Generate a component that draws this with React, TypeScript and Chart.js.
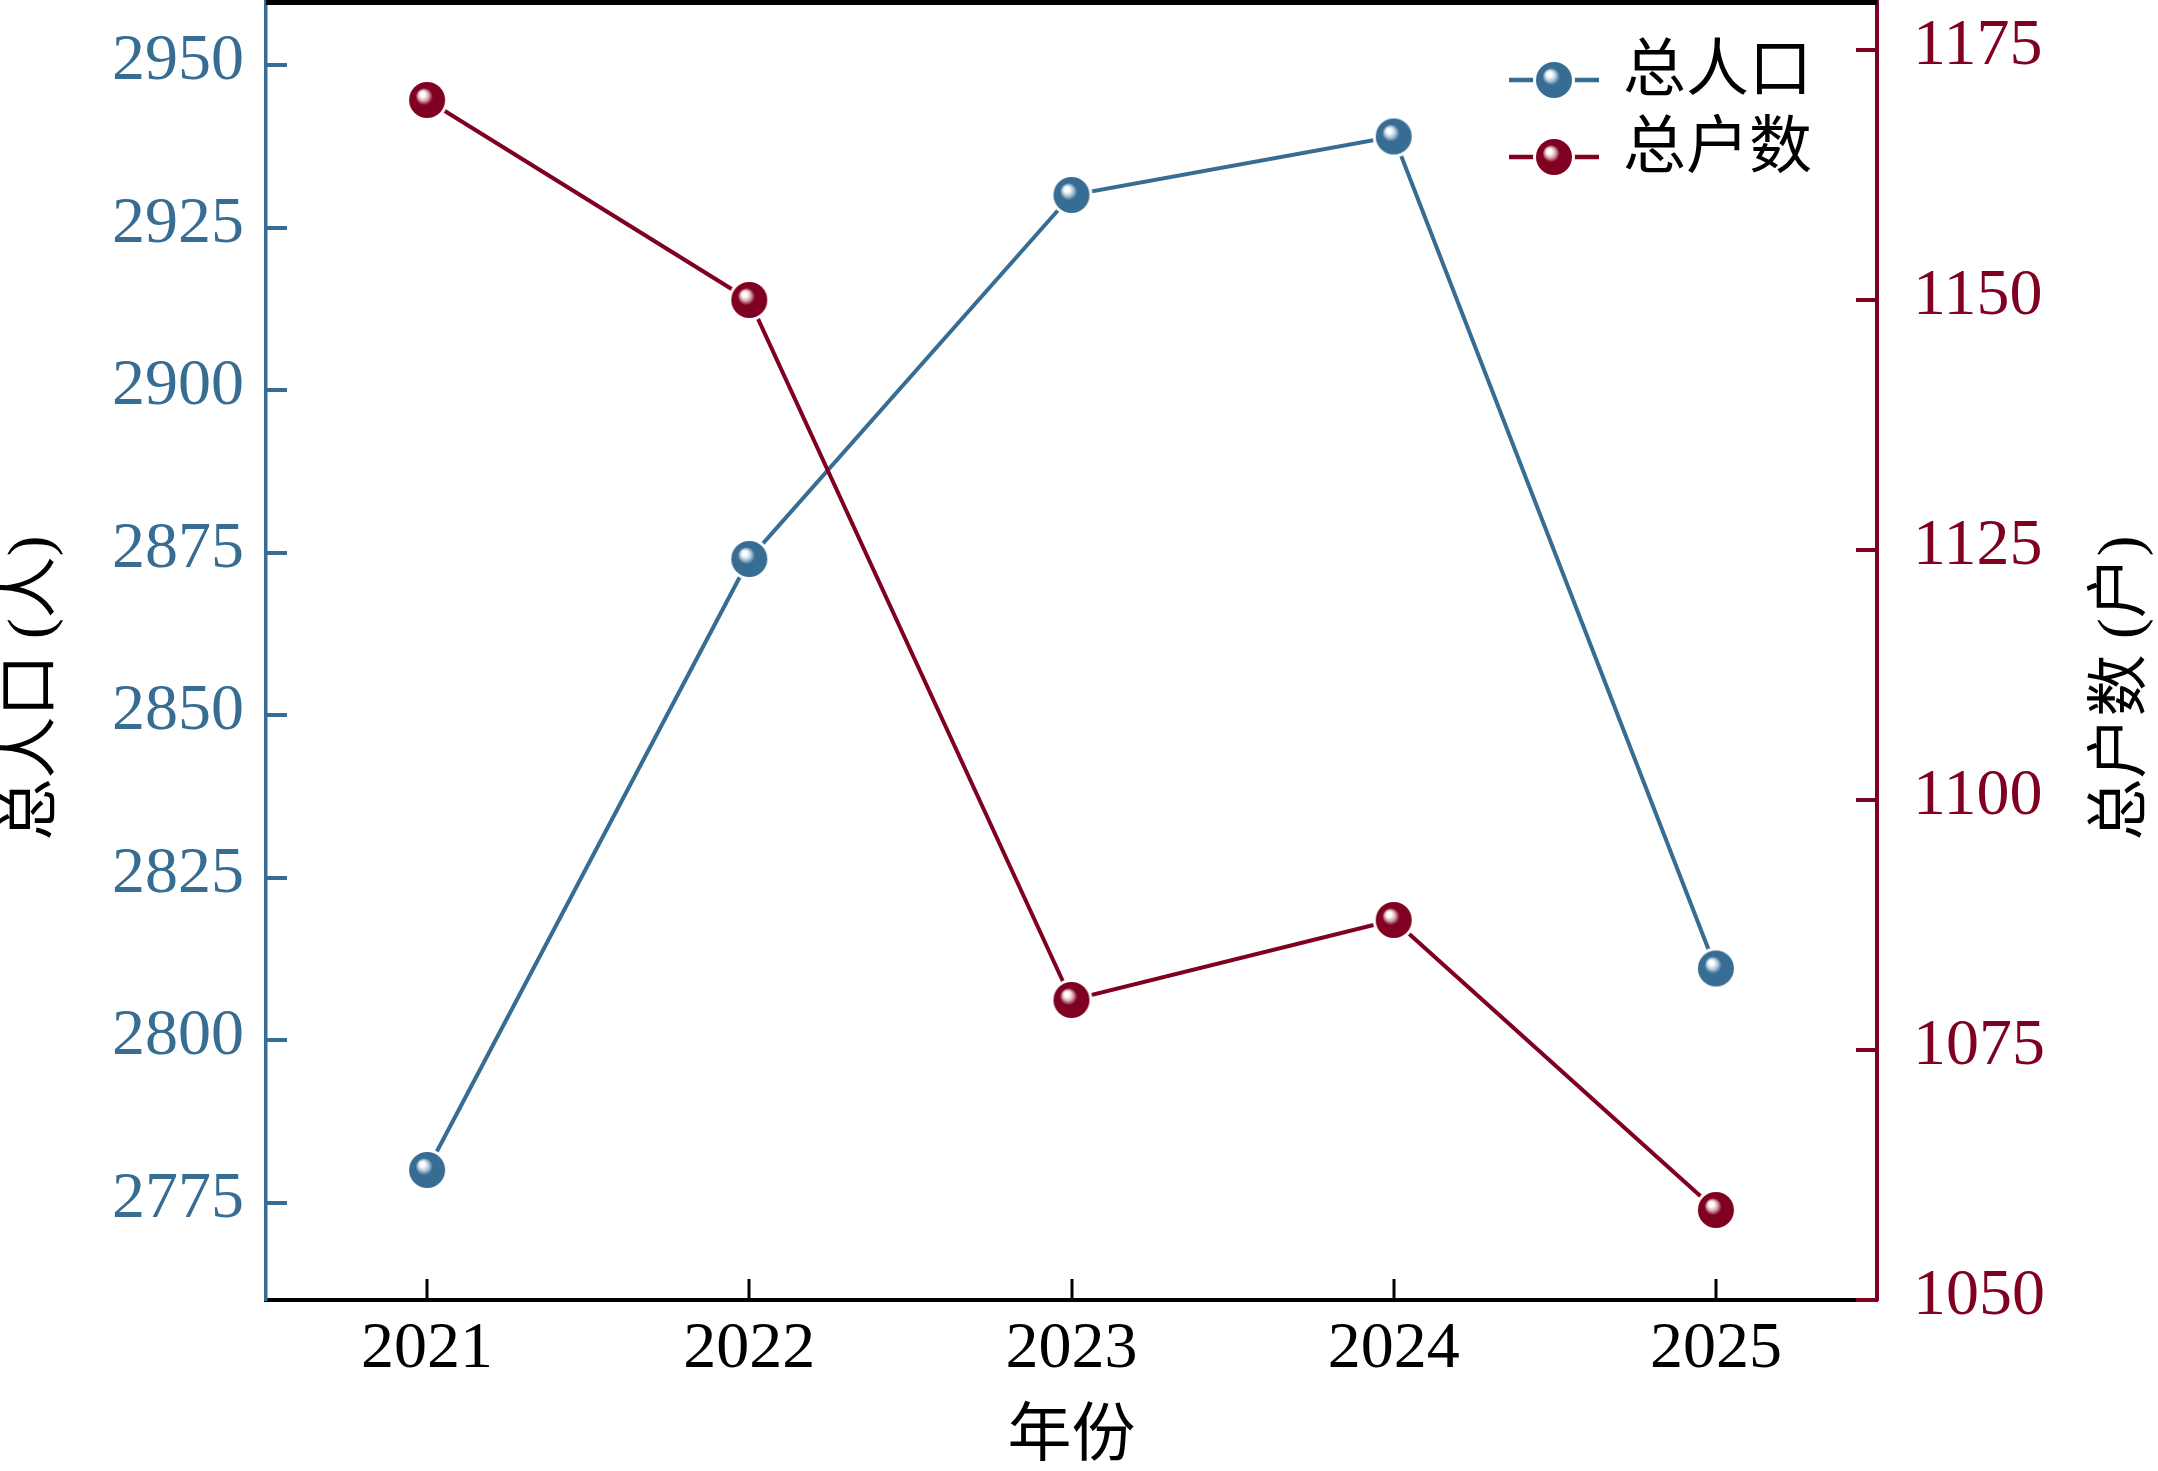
import { useEffect, useRef } from "react";
import { Chart, registerables } from "chart.js";

Chart.register(...registerables);

// data
const years = ["2021", "2022", "2023", "2024", "2025"];
const population = [2780, 2874, 2930, 2939, 2811];
const households = [1170, 1150, 1080, 1088, 1059];
const populationTicks = [2775, 2800, 2825, 2850, 2875, 2900, 2925, 2950];
const householdTicks = [1050, 1075, 1100, 1125, 1150, 1175];

const BLUE = "#376c93";
const BLUE_LIGHT = "#b3cadd";
const RED = "#7f0020";
const RED_LIGHT = "#d9a7b1";
const SERIF = "'Liberation Serif', 'Noto Sans CJK SC', serif";

// shiny ball marker with a white ring, so lines stop short of it
function makeBall(color: string, light: string, r = 18, ring = 3) {
  const size = Math.ceil(2 * (r + ring)) + 2;
  const c = document.createElement("canvas");
  c.width = size;
  c.height = size;
  const ctx = c.getContext("2d")!;
  const cx = size / 2;
  const cy = size / 2;
  ctx.fillStyle = "#ffffff";
  ctx.beginPath();
  ctx.arc(cx, cy, r + ring, 0, Math.PI * 2);
  ctx.fill();
  const g = ctx.createRadialGradient(cx - 0.3 * r, cy - 0.36 * r, 0, cx, cy, r);
  g.addColorStop(0, "#ffffff");
  g.addColorStop(0.14, "#ffffff");
  g.addColorStop(0.3, light);
  g.addColorStop(0.48, color);
  g.addColorStop(1, color);
  ctx.fillStyle = g;
  ctx.beginPath();
  ctx.arc(cx, cy, r, 0, Math.PI * 2);
  ctx.fill();
  return c;
}

const noPad = (scale: any) => {
  scale.paddingTop = 0;
  scale.paddingBottom = 0;
  scale.paddingLeft = 0;
  scale.paddingRight = 0;
};

export default function App() {
  const canvasRef = useRef<HTMLCanvasElement>(null);

  useEffect(() => {
    if (!canvasRef.current) return;

    const blueBall = makeBall(BLUE, BLUE_LIGHT);
    const redBall = makeBall(RED, RED_LIGHT);

    const decor = {
      id: "decor",
      beforeDatasetsDraw(chart: any) {
        const ctx = chart.ctx;
        const { x, y, y1 } = chart.scales;
        ctx.save();
        // inward tick marks
        ctx.lineWidth = 4;
        ctx.strokeStyle = BLUE;
        y.ticks.forEach((_: any, i: number) => {
          const p = Math.round(y.getPixelForTick(i));
          ctx.beginPath();
          ctx.moveTo(y.right, p);
          ctx.lineTo(y.right + 21, p);
          ctx.stroke();
        });
        ctx.strokeStyle = RED;
        y1.ticks.forEach((_: any, i: number) => {
          const p = Math.round(y1.getPixelForTick(i));
          ctx.beginPath();
          ctx.moveTo(y1.left, p);
          ctx.lineTo(y1.left - 21, p);
          ctx.stroke();
        });
        ctx.lineWidth = 3;
        ctx.strokeStyle = "#000000";
        x.ticks.forEach((_: any, i: number) => {
          const p = Math.round(x.getPixelForTick(i));
          ctx.beginPath();
          ctx.moveTo(p, x.top);
          ctx.lineTo(p, x.top - 21);
          ctx.stroke();
        });
        ctx.restore();
      },
      afterDraw(chart: any) {
        const ctx = chart.ctx;
        const area = chart.chartArea;
        ctx.save();
        // top frame line
        ctx.fillStyle = "#000000";
        ctx.fillRect(area.left, area.top, area.right - area.left, 5);

        // y axis titles, both reading bottom to top
        ctx.font = `62px ${SERIF}`;
        ctx.textAlign = "center";
        ctx.textBaseline = "middle";
        const titles: [string, number][] = [
          ["总人口 (人)", 34],
          ["总户数 (户)", 2124],
        ];
        titles.forEach(([t, tx]) => {
          ctx.save();
          ctx.translate(tx, 688);
          ctx.rotate(-Math.PI / 2);
          ctx.fillText(t, 0, 0);
          ctx.restore();
        });

        // legend
        const balls = [blueBall, redBall];
        chart.data.datasets.forEach((ds: any, i: number) => {
          const ly = 80 + i * 77;
          ctx.strokeStyle = ds.borderColor;
          ctx.lineWidth = 4.5;
          ctx.beginPath();
          ctx.moveTo(1509, ly);
          ctx.lineTo(1599, ly);
          ctx.stroke();
          const b = balls[i];
          ctx.drawImage(b, 1554 - b.width / 2, ly - b.height / 2);
          ctx.fillStyle = "#000000";
          ctx.textAlign = "left";
          ctx.font = `63px ${SERIF}`;
          ctx.fillText(ds.label, 1623, ly - 7);
        });
        ctx.restore();
      },
    };

    const chart = new Chart(canvasRef.current, {
      type: "line",
      data: {
        labels: years,
        datasets: [
          {
            label: "总人口",
            data: population,
            yAxisID: "y",
            borderColor: BLUE,
            backgroundColor: BLUE,
            borderWidth: 4,
            pointStyle: blueBall as any,
            pointRadius: 18,
            tension: 0,
            order: 1,
          },
          {
            label: "总户数",
            data: households,
            yAxisID: "y1",
            borderColor: RED,
            backgroundColor: RED,
            borderWidth: 4,
            pointStyle: redBall as any,
            pointRadius: 18,
            tension: 0,
            order: 0,
          },
        ],
      },
      options: {
        animation: false,
        responsive: true,
        maintainAspectRatio: false,
        devicePixelRatio: 1,
        layout: { padding: 0, autoPadding: false },
        plugins: {
          legend: { display: false },
          tooltip: { enabled: false },
        },
        scales: {
          x: {
            offset: true,
            grid: { display: false, drawTicks: false },
            border: { color: "#000000", width: 4 },
            ticks: {
              color: "#000000",
              padding: 10,
              font: { family: SERIF, size: 66 },
            },
            title: {
              display: true,
              text: "年份",
              color: "#000000",
              padding: 0,
              font: { family: SERIF, size: 64, lineHeight: 1.03 },
            },
            afterFit: (scale: any) => {
              scale.height = 171;
              noPad(scale);
            },
          },
          y: {
            position: "left",
            min: 2760,
            max: 2960,
            grid: { display: false, drawTicks: false },
            border: { color: BLUE, width: 3.5 },
            ticks: {
              color: BLUE,
              padding: 22,
              labelOffset: -3,
              font: { family: SERIF, size: 66 },
              callback: (v: any) => String(v),
            },
            afterBuildTicks: (scale: any) => {
              scale.ticks = populationTicks.map((v) => ({ value: v }));
            },
            afterFit: (scale: any) => {
              scale.width = 266;
              noPad(scale);
            },
          },
          y1: {
            position: "right",
            min: 1050,
            max: 1180,
            grid: { display: false, drawTicks: false },
            border: { color: RED, width: 4 },
            ticks: {
              color: RED,
              padding: 36,
              labelOffset: -3,
              font: { family: SERIF, size: 66 },
              callback: (v: any) => String(v),
            },
            afterBuildTicks: (scale: any) => {
              scale.ticks = householdTicks.map((v) => ({ value: v }));
            },
            afterFit: (scale: any) => {
              scale.width = 281;
              noPad(scale);
            },
          },
        },
      },
      plugins: [decor],
    });

    return () => {
      chart.destroy();
    };
  }, []);

  return (
    <div
      style={{
        position: "fixed",
        left: 0,
        top: 0,
        width: "2158px",
        height: "1471px",
        background: "#ffffff",
      }}
    >
      <canvas ref={canvasRef} />
    </div>
  );
}
